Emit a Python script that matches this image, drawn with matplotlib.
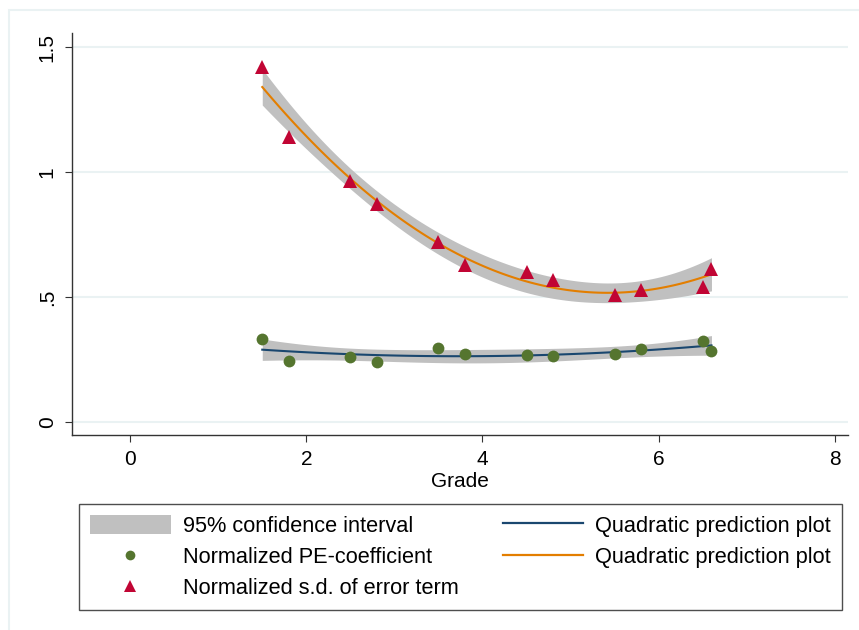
import matplotlib
matplotlib.use("Agg")
import matplotlib.pyplot as plt
import numpy as np
from matplotlib.patches import Patch, Rectangle
from matplotlib.lines import Line2D

plt.rcParams["font.family"] = ["Liberation Sans", "DejaVu Sans"]

# data
grade = [1.5, 1.8, 2.5, 2.8, 3.5, 3.8, 4.5, 4.8, 5.5, 5.8, 6.5, 6.6]
pe_coef = [0.332, 0.244, 0.260, 0.240, 0.296, 0.272, 0.268, 0.264, 0.272, 0.292, 0.324, 0.284]
sd_err = [1.420, 1.140, 0.964, 0.872, 0.720, 0.628, 0.600, 0.568, 0.508, 0.528, 0.540, 0.612]

x_ticks = [0, 2, 4, 6, 8]
y_ticks = [0, 0.5, 1, 1.5]
y_labels = ["0", ".5", "1", "1.5"]

T975 = 2.262  # t quantile, 9 d.o.f.

CI_COLOR = "#c0c0c0"
NAVY = "#1a476f"
ORANGE = "#e37e00"
GREEN = "#55752f"
RED = "#c10534"
GRID = "#eaf2f3"


def qfit_ci(x, y, n=100):
    # quadratic fit with 95% CI of the mean prediction, like Stata qfitci
    x = np.asarray(x, float)
    y = np.asarray(y, float)
    X = np.column_stack([np.ones_like(x), x, x ** 2])
    beta, res, _, _ = np.linalg.lstsq(X, y, rcond=None)
    resid = y - X @ beta
    s2 = resid @ resid / (len(x) - 3)
    xtx_inv = np.linalg.inv(X.T @ X)
    xs = np.linspace(x.min(), x.max(), n)
    Xs = np.column_stack([np.ones_like(xs), xs, xs ** 2])
    fit = Xs @ beta
    se = np.sqrt(s2 * np.einsum("ij,jk,ik->i", Xs, xtx_inv, Xs))
    return xs, fit, fit - T975 * se, fit + T975 * se


fig = plt.figure(figsize=(8.59, 6.30), dpi=100)
fig.patches.append(Rectangle((9 / 859, -0.05), 1.0, 1 - 10 / 630 + 0.05,
                             transform=fig.transFigure, fill=False,
                             edgecolor=GRID, linewidth=1.5))
ax = fig.add_axes([72 / 859, 1 - 435 / 630, (848 - 72) / 859, (435 - 33) / 630])

xs1, f1, lo1, hi1 = qfit_ci(grade, pe_coef)
xs2, f2, lo2, hi2 = qfit_ci(grade, sd_err)

ax.fill_between(xs1, lo1, hi1, color=CI_COLOR, linewidth=0, zorder=2)
ax.fill_between(xs2, lo2, hi2, color=CI_COLOR, linewidth=0, zorder=2)
ax.plot(grade, pe_coef, "o", color=GREEN, markersize=8.5, markeredgewidth=0, zorder=4)
ax.plot(grade, sd_err, "^", color=RED, markersize=10, markeredgewidth=0, zorder=4)
ax.plot(xs1, f1, color=NAVY, linewidth=1.5, zorder=3)
ax.plot(xs2, f2, color=ORANGE, linewidth=1.5, zorder=3)

ax.set_xlim(-0.66, 8.15)
ax.set_ylim(-0.052, 1.556)
ax.set_xticks(x_ticks)
ax.set_yticks(y_ticks)
ax.set_yticklabels(y_labels, rotation=90, va="center")
ax.tick_params(labelsize=15, length=5, color="#333333", pad=6)
ax.set_xlabel("Grade", fontsize=15, labelpad=2)
ax.grid(axis="y", color=GRID, linewidth=1.5)
ax.set_axisbelow(True)
for side in ["top", "right"]:
    ax.spines[side].set_visible(False)
for side in ["left", "bottom"]:
    ax.spines[side].set_color("#333333")
    ax.spines[side].set_linewidth(1.0)

handles = [
    Patch(facecolor=CI_COLOR, edgecolor="none"),
    Line2D([], [], linestyle="none", marker="o", color=GREEN, markersize=7, markeredgewidth=0),
    Line2D([], [], linestyle="none", marker="^", color=RED, markersize=8, markeredgewidth=0),
    Line2D([], [], color=NAVY, linewidth=1.6),
    Line2D([], [], color=ORANGE, linewidth=1.6),
]
labels = ["95% confidence interval", "Normalized PE-coefficient",
          "Normalized s.d. of error term", "Quadratic prediction plot",
          "Quadratic prediction plot"]
leg = fig.legend(handles, labels, ncol=2, fontsize=15.7, mode="expand",
                 bbox_to_anchor=(79 / 859, 23 / 630, (842 - 79) / 859, 100 / 630),
                 loc="center", frameon=True, fancybox=False, shadow=False,
                 handlelength=3.7, handleheight=1.0, handletextpad=0.55,
                 labelspacing=0.42, borderpad=0.5, borderaxespad=0)
leg.get_frame().set_edgecolor("#222222")
leg.get_frame().set_linewidth(1.0)

fig.savefig("out.png", dpi=100)
